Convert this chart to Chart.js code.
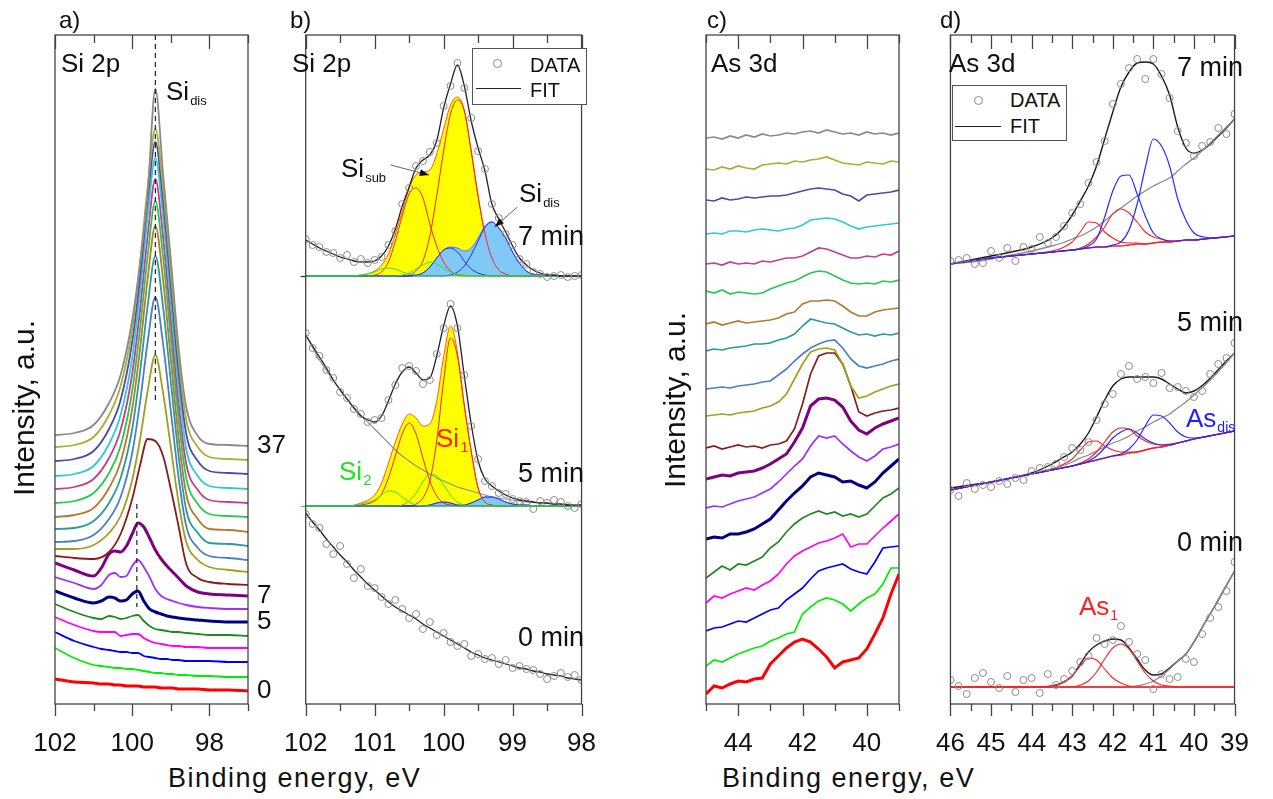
<!DOCTYPE html>
<html>
<head>
<meta charset="utf-8">
<script src="https://cdn.jsdelivr.net/npm/chart.js@4.4.1/dist/chart.umd.min.js"></script>
<style>
  body { margin:0; background:#fff; }
  #wrap { position:relative; width:1273px; height:799px; overflow:hidden; font-family:"Liberation Sans", Arial, sans-serif; color:#111; }
  #wrap canvas { position:absolute; top:0; }
  .t { position:absolute; white-space:nowrap; line-height:1; font-size:26px; }
  .s { font-size:13px; position:relative; top:5px; margin-left:1px; }
  .r { text-align:right; font-size:27px; }
  .box { position:absolute; border:1px solid #555; background:#fff; }
  .dot { position:absolute; width:7px; height:7px; border:1px solid #888; border-radius:50%; }
  .ln { position:absolute; height:0; border-top:1.5px solid #222; }
  .ylab { position:absolute; width:220px; height:30px; line-height:30px; font-size:30px; text-align:center; transform:rotate(-90deg); }
  .xlab { position:absolute; font-size:27px; letter-spacing:1.5px; line-height:1; white-space:nowrap; }
</style>
</head>
<body>
<div id="wrap">
  <canvas id="ca" width="300" height="760" style="left:0px"></canvas>
  <canvas id="cb" width="360" height="760" style="left:260px"></canvas>
  <canvas id="cc" width="240" height="760" style="left:680px"></canvas>
  <canvas id="cd" width="361" height="760" style="left:912px"></canvas>

  <div class="t" style="left:59px;top:8px;font-size:24px">a)</div>
  <div class="t" style="left:290px;top:8px;font-size:24px">b)</div>
  <div class="t" style="left:707px;top:8px;font-size:24px">c)</div>
  <div class="t" style="left:940px;top:8px;font-size:24px">d)</div>

  <div class="t" style="left:61px;top:50px">Si 2p</div>
  <div class="t" style="left:166px;top:78px">Si<span class="s">dis</span></div>

  <div class="t" style="left:292px;top:50px">Si 2p</div>
  <div class="t" style="left:341px;top:155px">Si<span class="s">sub</span></div>
  <div class="t" style="left:519px;top:180px">Si<span class="s">dis</span></div>
  <div class="t r" style="right:689px;top:223px">7 min</div>
  <div class="t r" style="right:689px;top:460px">5 min</div>
  <div class="t r" style="right:689px;top:624px">0 min</div>
  <div class="t" style="left:339px;top:458px;color:#22e022">Si<span class="s" style="font-size:15px">2</span></div>
  <div class="t" style="left:436px;top:425px;color:#ff2020">Si<span class="s" style="font-size:15px">1</span></div>
  <div class="box" style="left:472px;top:48px;width:113px;height:55px"></div>
  <div class="dot" style="left:493px;top:59px"></div>
  <div class="ln" style="left:476px;top:88px;width:45px"></div>
  <div class="t" style="left:530px;top:55px;font-size:20px">DATA</div>
  <div class="t" style="left:530px;top:80px;font-size:20px">FIT</div>

  <div class="t" style="left:711px;top:50px">As 3d</div>

  <div class="t" style="left:949px;top:50px">As 3d</div>
  <div class="t r" style="right:30px;top:54px">7 min</div>
  <div class="t r" style="right:30px;top:309px">5 min</div>
  <div class="t r" style="right:30px;top:529px">0 min</div>
  <div class="t" style="left:1186px;top:405px;color:#2020ff">As<span class="s" style="font-size:14px">dis</span></div>
  <div class="t" style="left:1079px;top:593px;color:#ff2020">As<span class="s" style="font-size:14px">1</span></div>
  <div class="box" style="left:952px;top:85px;width:113px;height:54px"></div>
  <div class="dot" style="left:974px;top:96px"></div>
  <div class="ln" style="left:955px;top:126px;width:46px"></div>
  <div class="t" style="left:1010px;top:90px;font-size:20px">DATA</div>
  <div class="t" style="left:1010px;top:116px;font-size:20px">FIT</div>

  <div class="ylab" style="left:-86px;top:393px">Intensity, a.u.</div>
  <div class="ylab" style="left:565px;top:385px">Intensity, a.u.</div>
  <div class="xlab" style="left:168px;top:765px">Binding energy, eV</div>
  <div class="xlab" style="left:722px;top:765px">Binding energy, eV</div>
</div>

<script>
const FONT = '"Liberation Sans", Arial, sans-serif';
Chart.defaults.font.family = FONT;

// ---------------- a) Si 2p, all sputtering times (top curve = 37) ----------------
const xaTop = [102, 101.5, 101, 100.6, 100.3, 100, 99.8, 99.6, 99.4, 99.2, 99, 98.8, 98.6, 98.3, 98, 97.5, 97];
const xaLow = [102, 101.5, 101, 100.8, 100.6, 100.45, 100.3, 100.15, 100, 99.85, 99.7, 99.55, 99.4, 99.25, 99.1, 98.95, 98.8, 98.6, 98.3, 98, 97.5, 97];
const siTop = [
  [269, 271, 279, 301, 329, 384, 440, 510, 615, 530, 445, 357, 297, 268, 260, 259, 258], // 37
  [257, 259, 267, 289, 318, 375, 440, 517, 575, 516, 431, 346, 284, 257, 247, 245, 244],
  [243, 245, 253, 275, 304, 362, 426, 504, 562, 503, 418, 333, 270, 243, 233, 231, 230],
  [228, 230, 238, 260, 289, 346, 411, 488, 546, 487, 402, 317, 255, 228, 218, 216, 215],
  [215, 217, 225, 246, 274, 330, 393, 468, 525, 467, 384, 301, 240, 214, 204, 202, 201],
  [201, 203, 211, 231, 258, 313, 374, 448, 503, 447, 366, 285, 226, 200, 190, 188, 187],
  [187, 189, 196, 216, 242, 295, 354, 425, 478, 424, 345, 267, 210, 185, 175, 174, 172],
  [175, 176, 183, 201, 226, 275, 331, 398, 448, 397, 323, 249, 194, 171, 161, 160, 158],
  [162, 163, 169, 185, 207, 251, 301, 362, 407, 360, 293, 227, 178, 156, 148, 146, 144],
  [155, 155, 159, 171, 188, 224, 264, 313, 349, 311, 257, 202, 162, 144, 137, 134, 132],
  [148, 146, 145, 152, 170, 205, 238, 265, 263, 248, 215, 178, 140, 126, 122, 120, 119]
];
const siLow = [
  [141, 134, 128, 136, 150, 153, 152, 158, 170, 181, 177, 166, 154, 145, 138, 132, 126, 118, 112, 110, 109, 108], // 7
  [127, 121, 115, 119, 129, 131, 127, 128, 138, 144, 137, 127, 115, 108, 105, 103, 101, 99, 97, 96, 95, 95],
  [113, 106, 101, 103, 107, 106, 103, 104, 110, 113, 103, 95, 92, 90, 88, 87, 86, 85, 84, 83, 82, 82],   // 5
  [100, 92, 86, 85, 88, 87, 85, 86, 88, 89, 83, 78, 75, 74, 73, 72, 72, 71, 70, 69, 69, 68],
  [87, 79, 73, 72, 72, 72, 68, 69, 70, 70, 66, 63, 61, 60, 59, 58, 58, 57, 57, 56, 56, 56],
  [72, 63, 57, 55, 54, 53, 52, 52, 51, 51, 48, 47, 46, 45, 45, 44, 44, 43, 43, 43, 42, 42],
  [56, 46, 39, 38, 37, 36, 36, 35, 35, 34, 33, 32, 31, 31, 30, 30, 29, 29, 28, 28, 27, 27],
  [25, 22, 21, 20, 20, 19, 19, 18, 18, 18, 17, 17, 17, 16, 16, 16, 15, 15, 15, 14, 14, 13]   // 0
];
const seriesColors = ['#8a8a8a', '#a8b030', '#4b4ba8', '#30c8d8', '#c83c8c', '#28c850', '#b8782e', '#2a9a9a',
  '#4a80c0', '#a0a01e', '#8b1a1a', '#800080', '#9b30ff', '#000080', '#208820', '#ff00ff', '#0000ff', '#00ee00', '#ff0000'];
const thickSeries = [11, 13, 18];
const sideLabelSeries = [0, 11, 13, 18];
const sideLabels = ['37', '7', '5', '0'];

// ---------------- b) Si 2p fits at 7, 5 and 0 min ----------------
const bComp = [102, 101.8, 101.6, 101.4, 101.2, 101.0, 100.9, 100.8, 100.7, 100.6, 100.5, 100.4, 100.3, 100.2, 100.1, 100.0,
  99.9, 99.8, 99.7, 99.6, 99.5, 99.4, 99.3, 99.2, 99.1, 99.0, 98.8, 98.6, 98.4, 98.2, 98.0];
const bFine = [102, 101.9, 101.8, 101.7, 101.6, 101.5, 101.4, 101.3, 101.2, 101.1, 101.0, 100.9, 100.8, 100.7, 100.6, 100.5,
  100.4, 100.3, 100.2, 100.1, 100.0, 99.9, 99.8, 99.7, 99.6, 99.5, 99.4, 99.3, 99.2, 99.1, 99.0, 98.9, 98.8, 98.7, 98.6, 98.5,
  98.4, 98.3, 98.2, 98.1, 98.0];
const base7 = 428, base5 = 198;
const fit7 = [36, 32, 28, 25, 22, 19, 17, 15, 14, 14, 15, 20, 30, 47, 70, 89, 108, 116, 121, 135, 168, 192, 211, 190, 155, 128, 105, 72, 57, 44, 30, 18, 11, 6, 3, 1, 1, 0, 0, 0, 0];
const data7 = [37, 31, 29, 24, 23, 18, 21, 14, 17, 13, 16, 19, 31, 45, 72, 88, 110, 115, 124, 133, 170, 190, 213, 188, 158, 125, 107, 72, 58, 42, 31, 17, 12, 4, 2, -1, 0, 1, -1, 0, 1];
const r1_7 = [0, 0, 0, 0, 0, 1, 4, 14, 35, 60, 82, 88, 78, 52, 30, 14, 5, 1, 0, 0, 0, 0, 0, 0, 0, 0, 0, 0, 0, 0, 0];
const r2_7 = [0, 0, 0, 0, 0, 0, 0, 0, 0, 0, 1, 5, 15, 40, 80, 125, 162, 176, 165, 125, 80, 42, 18, 6, 2, 0, 0, 0, 0, 0, 0];
const g1_7 = [0, 0, 0, 0, 1, 4, 7, 8, 7, 4, 2, 1, 0, 0, 0, 0, 0, 0, 0, 0, 0, 0, 0, 0, 0, 0, 0, 0, 0, 0, 0];
const g2_7 = [0, 0, 0, 0, 0, 0, 0, 0, 0, 1, 3, 7, 11, 14, 12, 8, 4, 2, 1, 0, 0, 0, 0, 0, 0, 0, 0, 0, 0, 0, 0];
const b1_7 = [0, 0, 0, 0, 0, 0, 0, 0, 0, 0, 0, 1, 3, 9, 18, 26, 28, 24, 15, 7, 3, 1, 0, 0, 0, 0, 0, 0, 0, 0, 0];
const b2_7 = [0, 0, 0, 0, 0, 0, 0, 0, 0, 0, 0, 0, 0, 0, 0, 0, 1, 4, 10, 21, 35, 49, 54, 48, 38, 24, 5, 1, 0, 0, 0];
const fit5 = [171, 160, 149, 138, 126, 116, 107, 98, 90, 86, 84, 90, 105, 122, 134, 139, 133, 126, 128, 150, 180, 200, 180, 130, 82, 45, 27, 20, 15, 11, 8, 6, 5, 4, 3, 3, 2, 2, 1, 1, 1];
const data5 = [173, 158, 150, 136, 128, 114, 108, 97, 92, 84, 86, 88, 106, 121, 138, 140, 135, 122, 126, 152, 178, 202, 178, 131, 80, 47, 25, 20, 13, 12, 7, 5, 4, -3, 5, 3, 6, 4, 0, -2, 2];
const bg5 = [171, 146, 126, 107, 91, 77, 70, 63, 56, 50, 45, 40, 36, 32, 28, 25, 22, 19, 17, 15, 13, 11, 9, 8, 7, 6, 4, 3, 2, 1, 0];
const r1_5 = [0, 0, 0, 0, 1, 5, 12, 28, 50, 72, 83, 72, 48, 25, 10, 3, 1, 0, 0, 0, 0, 0, 0, 0, 0, 0, 0, 0, 0, 0, 0];
const r2_5 = [0, 0, 0, 0, 0, 0, 0, 0, 0, 0, 0, 2, 8, 25, 65, 125, 168, 150, 100, 55, 18, 4, 1, 0, 0, 0, 0, 0, 0, 0, 0];
const g1_5 = [0, 0, 0, 0, 2, 6, 11, 15, 14, 9, 4, 1, 0, 0, 0, 0, 0, 0, 0, 0, 0, 0, 0, 0, 0, 0, 0, 0, 0, 0, 0];
const g2_5 = [0, 0, 0, 0, 0, 0, 0, 0, 0, 1, 5, 13, 24, 32, 30, 21, 11, 4, 1, 0, 0, 0, 0, 0, 0, 0, 0, 0, 0, 0, 0];
const b1_5 = [0, 0, 0, 0, 0, 0, 0, 0, 0, 0, 0, 0, 0, 1, 3, 4, 3, 1, 0, 0, 0, 0, 0, 0, 0, 0, 0, 0, 0, 0, 0];
const b2_5 = [0, 0, 0, 0, 0, 0, 0, 0, 0, 0, 0, 0, 0, 0, 0, 0, 0, 0, 1, 3, 6, 9, 9, 7, 4, 2, 1, 0, 0, 0, 0];
const fit0 = [191, 182, 174, 165, 157, 149, 142, 134, 127, 120, 114, 108, 102, 97, 93, 89, 85, 80, 76, 72, 68, 64, 60, 56, 52, 49, 46, 44, 42, 40, 38, 36, 35, 33, 32, 30, 29, 28, 26, 25, 24];
const data0 = [190, 180, 176, 160, 150, 158, 140, 126, 135, 118, 116, 107, 100, 104, 95, 86, 90, 75, 82, 69, 71, 62, 58, 60, 48, 50, 45, 46, 40, 44, 36, 38, 35, 34, 30, 25, 28, 31, 27, 29, 24];

// ---------------- c) As 3d, all sputtering times (same colours as a) ----------------
const xc = [45, 44.75, 44.5, 44.25, 44, 43.75, 43.5, 43.25, 43, 42.75, 42.5, 42.25, 42, 41.75, 41.5, 41.25, 41, 40.75, 40.5, 40.25, 40, 39.75, 39.5, 39.25, 39];
const asCurves = [
  [566, 567, 565, 568, 566, 569, 567, 570, 568, 569, 571, 570, 572, 573, 571, 574, 572, 570, 571, 569, 572, 570, 571, 569, 571],
  [535, 534, 537, 535, 538, 536, 535, 539, 540, 541, 540, 543, 542, 544, 545, 547, 544, 541, 540, 539, 542, 541, 540, 543, 542],
  [504, 503, 506, 504, 505, 507, 506, 507, 508, 508, 509, 511, 513, 515, 516, 515, 514, 510, 508, 503, 509, 510, 511, 512, 514],
  [470, 471, 470, 473, 473, 472, 474, 475, 474, 473, 475, 476, 479, 484, 485, 486, 485, 482, 478, 475, 477, 478, 479, 480, 481],
  [440, 441, 439, 442, 440, 441, 440, 443, 442, 444, 446, 446, 448, 452, 456, 455, 452, 449, 446, 446, 448, 447, 450, 449, 453],
  [413, 411, 414, 410, 412, 411, 410, 411, 415, 418, 421, 423, 427, 431, 433, 432, 428, 424, 421, 420, 421, 420, 423, 422, 424],
  [380, 382, 379, 381, 383, 381, 382, 383, 384, 386, 390, 392, 400, 403, 403, 404, 403, 398, 392, 388, 388, 392, 394, 395, 396],
  [353, 355, 354, 356, 357, 358, 360, 360, 361, 364, 366, 370, 378, 385, 383, 381, 380, 376, 372, 369, 370, 368, 370, 369, 371],
  [315, 316, 317, 316, 318, 319, 320, 322, 323, 329, 335, 343, 350, 356, 360, 363, 364, 356, 345, 338, 336, 338, 340, 343, 345],
  [288, 289, 290, 289, 291, 292, 293, 296, 298, 302, 310, 325, 340, 352, 355, 356, 354, 340, 318, 306, 308, 312, 315, 318, 320],
  [256, 258, 255, 257, 259, 257, 258, 256, 259, 260, 263, 275, 300, 330, 348, 351, 351, 340, 318, 292, 288, 291, 293, 294, 296],
  [225, 227, 229, 228, 231, 232, 233, 236, 240, 245, 250, 262, 276, 298, 305, 306, 304, 297, 283, 274, 270, 276, 280, 283, 286],
  [196, 198, 197, 200, 203, 205, 207, 211, 215, 222, 230, 238, 245, 258, 268, 266, 268, 260, 253, 247, 243, 248, 255, 257, 260],
  [165, 167, 166, 170, 170, 172, 175, 180, 185, 194, 203, 211, 218, 227, 231, 229, 227, 222, 223, 219, 216, 222, 231, 238, 245],
  [126, 132, 138, 134, 140, 139, 143, 147, 156, 162, 172, 180, 186, 190, 193, 190, 192, 188, 190, 187, 190, 198, 206, 210, 216],
  [101, 108, 106, 110, 113, 116, 114, 119, 123, 130, 140, 148, 153, 157, 161, 163, 166, 170, 157, 160, 160, 168, 176, 183, 190],
  [73, 76, 77, 80, 83, 82, 86, 90, 94, 96, 104, 110, 116, 125, 133, 136, 138, 140, 135, 132, 130, 142, 156, 157, 158],
  [38, 44, 42, 46, 50, 53, 56, 58, 63, 66, 70, 72, 90, 97, 103, 106, 104, 100, 93, 100, 106, 110, 120, 136, 136],
  [10, 18, 16, 20, 23, 22, 25, 26, 40, 48, 56, 62, 65, 62, 55, 47, 36, 42, 44, 46, 55, 70, 86, 110, 130]
];

// ---------------- d) As 3d fits at 7, 5 and 0 min ----------------
const xd = [46, 45.5, 45, 44.5, 44, 43.5, 43.25, 43, 42.8, 42.6, 42.4, 42.2, 42, 41.8, 41.6, 41.4, 41.2, 41, 40.8, 40.6, 40.4, 40.2, 40, 39.75, 39.5, 39.25, 39];
const xdData = [46, 45.8, 45.6, 45.4, 45.2, 45, 44.8, 44.6, 44.4, 44.2, 44, 43.8, 43.6, 43.4, 43.2, 43, 42.8, 42.6, 42.4, 42.2, 42,
  41.8, 41.6, 41.4, 41.2, 41, 40.8, 40.6, 40.4, 40.2, 40, 39.8, 39.6, 39.4, 39.2, 39];
const dFit7 = [440, 444, 448, 452, 457, 466, 475, 489, 503, 518, 538, 565, 592, 617, 632, 641, 642, 640, 628, 609, 577, 556, 551, 555, 564, 574, 585];
const dBg7 = [440, 442, 445, 449, 453, 458, 461, 465, 468, 472, 477, 483, 490, 496, 502, 508, 513, 518, 522, 526, 533, 540, 546, 555, 565, 575, 585];
const dBase7 = [440, 443, 446, 448, 450, 452, 453, 454, 455, 456, 457, 457, 458, 458, 459, 460, 460, 461, 462, 462, 463, 464, 464, 465, 466, 467, 468];
const dR1_7 = [0, 0, 0, 0, 0, 1, 3, 8, 17, 26, 24, 15, 8, 4, 2, 1, 0, 0, 0, 0, 0, 0, 0, 0, 0, 0, 0];
const dR2_7 = [0, 0, 0, 0, 0, 0, 0, 0, 1, 4, 10, 20, 32, 37, 32, 22, 12, 6, 3, 1, 0, 0, 0, 0, 0, 0, 0];
const dB1_7 = [0, 0, 0, 0, 0, 0, 0, 0, 0, 2, 8, 30, 55, 70, 70, 50, 28, 10, 3, 1, 0, 0, 0, 0, 0, 0, 0];
const dB2_7 = [0, 0, 0, 0, 0, 0, 0, 0, 0, 0, 0, 0, 1, 4, 15, 40, 76, 104, 96, 76, 42, 20, 7, 2, 0, 0, 0];
const dData7 = [443, 444, 446, 440, 441, 453, 446, 456, 443, 457, 455, 467, 461, 467, 478, 491, 500, 521, 542, 563, 600, 620, 636, 645, 625, 645, 630, 606, 573, 561, 548, 558, 562, 576, 570, 590];
const dFit5 = [216, 219, 222, 226, 231, 240, 246, 252, 260, 271, 287, 304, 318, 325, 327, 327, 327, 327, 325, 320, 315, 311, 313, 320, 330, 341, 351];
const dBg5 = [214, 218, 222, 226, 230, 235, 238, 242, 246, 249, 253, 257, 261, 264, 268, 273, 277, 282, 286, 290, 296, 302, 309, 318, 328, 339, 351];
const dBase5 = [214, 218, 222, 226, 230, 234, 236, 238, 240, 242, 244, 246, 248, 249, 251, 252, 254, 256, 257, 259, 261, 263, 265, 267, 269, 271, 273];
const dR1_5 = [0, 0, 0, 0, 0, 1, 3, 7, 14, 20, 19, 12, 6, 3, 1, 0, 0, 0, 0, 0, 0, 0, 0, 0, 0, 0, 0];
const dR2_5 = [0, 0, 0, 0, 0, 0, 0, 0, 1, 3, 8, 16, 24, 27, 24, 16, 9, 4, 2, 1, 0, 0, 0, 0, 0, 0, 0];
const dB1_5 = [0, 0, 0, 0, 0, 0, 0, 0, 0, 1, 4, 10, 18, 23, 24, 19, 11, 5, 2, 0, 0, 0, 0, 0, 0, 0, 0];
const dB2_5 = [0, 0, 0, 0, 0, 0, 0, 0, 0, 0, 0, 0, 0, 1, 4, 12, 24, 33, 31, 22, 11, 4, 1, 0, 0, 0, 0];
const dData5 = [214, 208, 221, 215, 219, 217, 223, 220, 226, 224, 233, 236, 237, 240, 247, 256, 254, 262, 284, 300, 310, 330, 338, 325, 327, 321, 331, 316, 317, 313, 307, 313, 330, 340, 346, 361];
const dFit0 = [17, 17, 17, 17, 17, 18, 21, 28, 40, 52, 59, 63, 65, 64, 56, 45, 34, 29, 30, 36, 43, 50, 62, 80, 97, 115, 133];
const dBg0 = [17, 17, 17, 17, 17, 17, 17, 17, 17, 17, 17, 17, 17, 17, 17, 18, 20, 23, 28, 35, 43, 50, 62, 80, 97, 115, 133];
const dBase0 = [17, 17, 17, 17, 17, 17, 17, 17, 17, 17, 17, 17, 17, 17, 17, 17, 17, 17, 17, 17, 17, 17, 17, 17, 17, 17, 17];
const dR1_0 = [0, 0, 0, 0, 0, 1, 4, 11, 21, 29, 27, 18, 9, 4, 1, 0, 0, 0, 0, 0, 0, 0, 0, 0, 0, 0, 0];
const dR2_0 = [0, 0, 0, 0, 0, 0, 0, 0, 2, 6, 15, 28, 39, 43, 38, 26, 14, 6, 2, 1, 0, 0, 0, 0, 0, 0, 0];
const dData0 = [24, 18, 10, 26, 31, 22, 16, 28, 12, 24, 26, 11, 30, 19, 25, 33, 42, 48, 66, 60, 64, 78, 62, 50, 44, 15, 30, 25, 27, 45, 42, 70, 86, 97, 113, 142];

// --------------------------------------------------------------------------
const add = (a, b) => a.map((v, i) => v + b[i]);

function line(xs, ys, off, color, width, extra) {
  return Object.assign({
    data: xs.map((x, i) => ({x: x, y: ys[i] + off})),
    borderColor: color, borderWidth: width, pointRadius: 0,
    cubicInterpolationMode: 'monotone', fill: false
  }, extra || {});
}
function dots(xs, ys, off) {
  return {
    data: xs.map((x, i) => ({x: x, y: ys[i] + off})),
    showLine: false, pointRadius: 3.5, pointBorderWidth: 1,
    pointBorderColor: '#8c8c8c', pointBackgroundColor: 'rgba(0,0,0,0)', borderColor: '#8c8c8c'
  };
}
// first dataset in the list is painted first (at the bottom)
function stackOrder(list) {
  list.forEach((d, i) => { d.order = list.length - i; });
  return list;
}

// frame, inner top ticks, outer bottom ticks, annotation lines
const decor = {
  id: 'decor',
  afterDraw(chart, args, o) {
    if (!o || !o.major) return;
    const ctx = chart.ctx, a = chart.chartArea, sx = chart.scales.x, sy = chart.scales.y;
    ctx.save();
    (o.lines || []).forEach(l => {
      const x1 = sx.getPixelForValue(l.x1), y1 = sy.getPixelForValue(l.y1);
      const x2 = sx.getPixelForValue(l.x2), y2 = sy.getPixelForValue(l.y2);
      ctx.strokeStyle = l.color || '#222';
      ctx.lineWidth = l.width || 1.2;
      ctx.setLineDash(l.dash || []);
      ctx.beginPath(); ctx.moveTo(x1, y1); ctx.lineTo(x2, y2); ctx.stroke();
      if (l.arrow) {
        const ang = Math.atan2(y2 - y1, x2 - x1);
        ctx.setLineDash([]);
        ctx.fillStyle = '#111';
        ctx.beginPath();
        ctx.moveTo(x2, y2);
        ctx.lineTo(x2 - 10 * Math.cos(ang - 0.35), y2 - 10 * Math.sin(ang - 0.35));
        ctx.lineTo(x2 - 10 * Math.cos(ang + 0.35), y2 - 10 * Math.sin(ang + 0.35));
        ctx.closePath(); ctx.fill();
      }
    });
    ctx.setLineDash([]);
    ctx.lineWidth = 1.3;
    (o.left || []).forEach(t => {
      const py = Math.round(sy.getPixelForValue(t.v)) + 0.5;
      ctx.strokeStyle = t.color;
      ctx.beginPath(); ctx.moveTo(a.left - 5, py); ctx.lineTo(a.left, py); ctx.stroke();
    });
    ctx.strokeStyle = '#444';
    const tick = (vals, lenB, lenT) => vals.forEach(v => {
      const px = Math.round(sx.getPixelForValue(v)) + 0.5;
      ctx.beginPath();
      ctx.moveTo(px, a.bottom); ctx.lineTo(px, a.bottom + lenB);
      ctx.moveTo(px, a.top); ctx.lineTo(px, a.top + lenT);
      ctx.stroke();
    });
    tick(o.major, 12, 14);
    tick(o.minor, 7, 8);
    ctx.strokeRect(a.left, a.top, a.right - a.left, a.bottom - a.top);
    ctx.restore();
  }
};
Chart.register(decor);

function makeChart(id, p) {
  const scales = {
    x: {
      type: 'linear', reverse: true, min: p.xmin, max: p.xmax,
      afterFit: s => { s.height = 56; },
      afterBuildTicks: s => { s.ticks = p.xticks.map(v => ({value: v})); },
      grid: {display: false, drawTicks: false}, border: {display: false},
      ticks: {autoSkip: false, maxRotation: 0, padding: 24, color: '#111', font: {size: 26}, callback: v => String(v)}
    },
    y: {type: 'linear', display: false, min: 0, max: 669}
  };
  if (p.side) scales.yr = p.side;
  return new Chart(document.getElementById(id), {
    type: 'line',
    data: {datasets: stackOrder(p.datasets)},
    options: {
      responsive: false, animation: false, devicePixelRatio: 1, events: [],
      layout: {padding: {left: p.padL, right: p.padR, top: 35, bottom: 0}},
      plugins: {legend: {display: false}, tooltip: {enabled: false}, decor: p.decor},
      scales: scales
    }
  });
}

// ---- panel a
const aSets = [];
siTop.concat(siLow).forEach((ys, i) => {
  const xs = i < siTop.length ? xaTop : xaLow;
  aSets.push(line(xs, ys, 0, seriesColors[i], thickSeries.includes(i) ? 3 : 1.8));
});
const allSi = siTop.concat(siLow);
const sideVals = sideLabelSeries.map(i => allSi[i][allSi[i].length - 1]);
makeChart('ca', {
  xmin: 97, xmax: 102, xticks: [102, 100, 98], padL: 55, padR: 0,
  datasets: aSets.reverse(),
  side: {
    type: 'linear', position: 'right', min: 0, max: 669,
    afterFit: s => { s.width = 52; },
    afterBuildTicks: s => { s.ticks = sideVals.map(v => ({value: v})); },
    grid: {display: false, drawTicks: false}, border: {display: false},
    ticks: {padding: 9, color: '#111', font: {size: 26}, callback: (v, i) => sideLabels[i]}
  },
  decor: {
    major: [102, 100, 98], minor: [101, 99, 97],
    lines: [
      {x1: 99.4, y1: 669, x2: 99.4, y2: 300, dash: [5, 4], color: '#222'},
      {x1: 99.88, y1: 200, x2: 99.88, y2: 97, dash: [5, 4], color: '#222'}
    ]
  }
});

// ---- panel b
const RED = '#ff2020', BLUE = '#2a2aff', GREEN = '#30e030';
function siFit(base, r1, r2, g1, g2, b1, b2, fit, data, bg) {
  const out = [
    line(bComp, [r1, r2, g1, g2].reduce(add), base, 'rgba(255,60,0,0.85)', 1, {fill: {value: base}, backgroundColor: '#ffff00'}),
    line(bComp, add(b1, b2), base, '#4a7cff', 1, {fill: {value: base}, backgroundColor: '#80c8f5'})
  ];
  if (bg) out.push(line(bComp, bg, base, '#8f8f8f', 1.1));
  out.push(
    line(bComp, r1, base, RED, 1), line(bComp, r2, base, RED, 1),
    line(bComp, b1, base, BLUE, 1), line(bComp, b2, base, BLUE, 1),
    line(bComp, g1, base, GREEN, 1), line(bComp, g2, base, GREEN, 1),
    line(bFine, fit, base, '#222', 1.3),
    dots(bFine, data, base)
  );
  return out;
}
makeChart('cb', {
  xmin: 98, xmax: 102, xticks: [102, 101, 100, 99, 98], padL: 30, padR: 28,
  datasets: [].concat(
    siFit(base7, r1_7, r2_7, g1_7, g2_7, b1_7, b2_7, fit7, data7, null),
    siFit(base5, r1_5, r2_5, g1_5, g2_5, b1_5, b2_5, fit5, data5, bg5),
    [line(bFine, fit0, 0, '#222', 1.3), dots(bFine, data0, 0)]
  ),
  decor: {
    major: [102, 101, 100, 99, 98], minor: [101.5, 100.5, 99.5, 98.5],
    left: [{v: base7, color: '#333'}, {v: base5, color: GREEN}],
    lines: [
      {x1: 100.77, y1: 539, x2: 100.21, y2: 529, color: '#666', width: 1, arrow: true},
      {x1: 98.93, y1: 497, x2: 99.26, y2: 477, color: '#666', width: 1, arrow: true}
    ]
  }
});

// ---- panel c
makeChart('cc', {
  xmin: 39, xmax: 45, xticks: [44, 42, 40], padL: 26, padR: 21,
  datasets: asCurves.map((ys, i) => line(xc, ys, 0, seriesColors[i], thickSeries.includes(i) ? 3 : 1.7,
    {cubicInterpolationMode: 'default', tension: 0})).reverse(),
  decor: {major: [44, 42, 40], minor: [45, 43, 41, 39]}
});

// ---- panel d
function asFit(fit, bg, base, reds, blues, data) {
  const out = [line(xd, fit, 0, '#1a1a1a', 1.4), line(xd, bg, 0, '#8a8a8a', 1.3), line(xd, base, 0, RED, 1.4)];
  reds.forEach(r => out.push(line(xd, add(base, r), 0, RED, 1.1)));
  blues.forEach(b => out.push(line(xd, add(base, b), 0, BLUE, 1.2)));
  out.push(dots(xdData, data, 0));
  return out;
}
makeChart('cd', {
  xmin: 39, xmax: 46, xticks: [46, 45, 44, 43, 42, 41, 40, 39], padL: 30, padR: 28,
  datasets: [].concat(
    asFit(dFit7, dBg7, dBase7, [dR1_7, dR2_7], [dB1_7, dB2_7], dData7),
    asFit(dFit5, dBg5, dBase5, [dR1_5, dR2_5], [dB1_5, dB2_5], dData5),
    asFit(dFit0, dBg0, dBase0, [dR1_0, dR2_0], [], dData0)
  ),
  decor: {
    major: [46, 45, 44, 43, 42, 41, 40, 39],
    minor: [45.5, 44.5, 43.5, 42.5, 41.5, 40.5, 39.5]
  }
});
</script>
</body>
</html>
